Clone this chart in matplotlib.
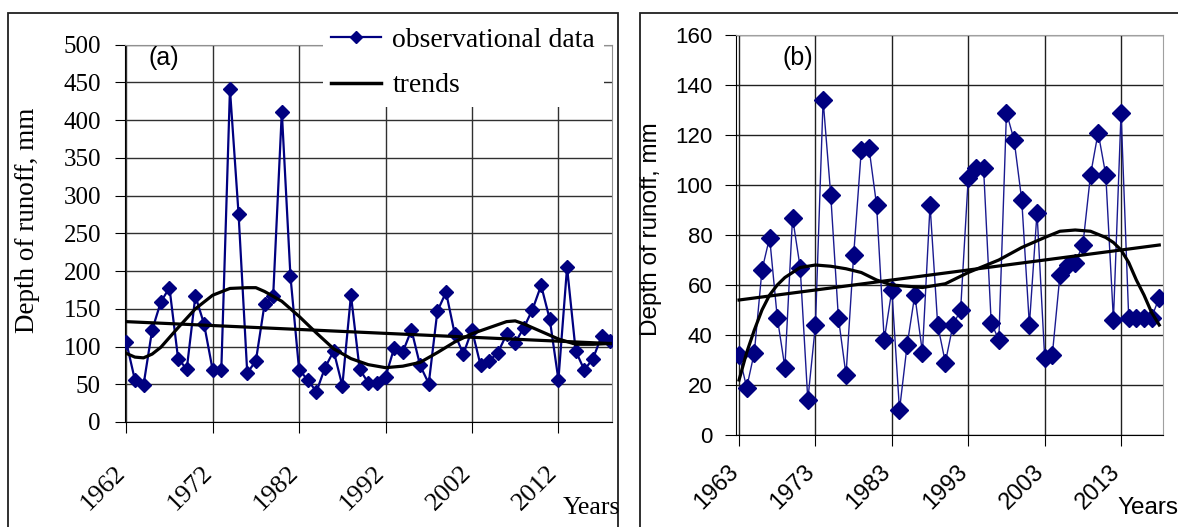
import matplotlib
matplotlib.use("Agg")
import matplotlib.pyplot as plt
from matplotlib.patches import Rectangle
from matplotlib.lines import Line2D

# (a) observations 1962-2018
years_a = list(range(1962, 2019))
runoff_a = [106, 56, 49, 122, 159, 178, 84, 70, 167, 130,
            69, 69, 441, 275, 65, 81, 156, 167, 411, 193,
            69, 56, 40, 72, 94, 48, 168, 70, 52, 52,
            60, 98, 93, 122, 75, 51, 147, 172, 117, 90,
            122, 75, 81, 92, 116, 105, 125, 149, 181, 136,
            56, 205, 94, 69, 84, 114, 108]
smooth_a_years = [1962, 1963, 1964, 1965, 1966, 1968, 1970, 1972, 1974, 1976, 1977, 1978,
                  1980, 1982, 1984, 1986, 1988, 1990, 1992, 1994, 1996, 1998, 2000, 2002,
                  2004, 2006, 2007, 2008, 2010, 2012, 2014, 2016, 2018]
smooth_a = [91, 86, 85, 90, 99, 125, 150, 168, 177, 178, 178, 173,
            160, 140, 118, 97, 84, 76, 72, 74, 79, 92, 106, 117,
            125, 133, 134, 130, 120, 110, 103, 103, 104]
linear_a_years = [1962, 2018]
linear_a = [133, 104]

# (b) observations 1963-2018
years_b = list(range(1963, 2019))
runoff_b = [32, 19, 33, 66, 79, 47, 27, 87, 67, 14,
            44, 134, 96, 47, 24, 72, 114, 115, 92, 38,
            58, 10, 36, 56, 33, 92, 44, 29, 44, 50,
            103, 107, 107, 45, 38, 129, 118, 94, 44, 89,
            31, 32, 64, 68, 69, 76, 104, 121, 104, 46,
            129, 47, 47, 47, 47, 55]
smooth_b_years = [1963, 1964, 1965, 1966, 1967, 1968, 1969, 1971, 1973, 1975, 1977, 1979,
                  1981, 1983, 1987, 1990, 1993, 1997, 2000, 2003, 2005, 2007, 2009,
                  2011, 2012, 2013, 2014, 2015, 2016, 2017, 2018]
smooth_b = [22, 33, 42, 50, 56, 60, 63, 67, 68, 67.5, 66.5, 65,
            62, 60, 59, 60.5, 65, 70, 75, 79, 81.5, 82, 81.5,
            79, 77, 74, 69, 62, 56, 49, 44]
linear_b_years = [1963, 2018]
linear_b = [54, 76]

W, H = 1178, 527
fig = plt.figure(figsize=(W / 100, H / 100), dpi=100)

def fx(px):
    return px / W

def fy(py):
    return 1 - py / H

navy = "#000080"
serif = "Liberation Serif"
sans = "Liberation Sans"

# ---- panel (a)
ax1 = fig.add_axes([fx(124.5), fy(422), fx(612 - 124.5), fy(44.7) - fy(422)])
ax1.plot(years_a, runoff_a, color=navy, lw=1.6, marker="D", ms=7,
         mfc=navy, mec=navy, zorder=3)
ax1.plot(smooth_a_years, smooth_a, color="black", lw=2.3, zorder=4)
ax1.plot(linear_a_years, linear_a, color="black", lw=2.3, zorder=4)
ax1.set_xlim(1961.8, 2018.2)
ax1.set_ylim(0, 500)
ax1.set_yticks(range(0, 501, 50))
ax1.set_xticks(range(1962, 2013, 10))
ax1.grid(True, color="#303030", lw=1)
ax1.set_axisbelow(True)
ax1.tick_params(axis="y", direction="out", length=7, pad=10, labelsize=18)
ax1.tick_params(axis="x", direction="out", length=8, pad=29, labelsize=19)
for lab in ax1.get_xticklabels():
    lab.set_rotation(45)
    lab.set_rotation_mode("anchor")
    lab.set_ha("right")
    lab.set_va("baseline")
    lab.set_fontfamily(serif)
for lab in ax1.get_yticklabels():
    lab.set_fontfamily(serif)
ax1.set_ylabel("Depth of runoff, mm", fontsize=19.5, fontfamily=serif)
ax1.yaxis.set_label_coords(fx(40 - 124.5) / fx(612 - 124.5), 0.535)
for s in ["top", "right"]:
    ax1.spines[s].set_color("#909090")
ax1.text(fx(148), fy(58), "(a)", transform=fig.transFigure, fontsize=18,
         fontfamily=sans, va="center", ha="left")
fig.text(fx(563), fy(508), "Years", fontsize=18.5, fontfamily=serif, va="center")

handles = [Line2D([], [], color=navy, lw=1.6, marker="D", ms=6),
           Line2D([], [], color="black", lw=2.5)]
leg = ax1.legend(handles, ["observational data", "trends"], loc="upper left",
                 bbox_to_anchor=(fx(323), fy(19)), bbox_transform=fig.transFigure,
                 borderaxespad=0, borderpad=0.3, prop={"family": serif, "size": 20},
                 handlelength=1.8, handletextpad=0.4, labelspacing=0.72,
                 frameon=True, fancybox=False, framealpha=1)
leg.get_frame().set_edgecolor("none")
leg.set_zorder(10)

# ---- panel (b)
ax2 = fig.add_axes([fx(736), fy(435), fx(1162.7 - 736), fy(35) - fy(435)])
ax2.plot(years_b, runoff_b, color="#1a1a90", lw=1.0, marker="D", ms=9,
         mfc=navy, mec=navy, zorder=3)
ax2.plot(smooth_b_years, smooth_b, color="black", lw=2.3, zorder=4)
ax2.plot(linear_b_years, linear_b, color="black", lw=2.3, zorder=4)
ax2.set_xlim(1962.6, 2018.45)
ax2.set_ylim(0, 160)
ax2.set_yticks(range(0, 161, 20))
ax2.set_xticks(range(1963, 2014, 10))
ax2.grid(True, color="#202020", lw=1)
ax2.set_axisbelow(True)
ax2.tick_params(axis="y", direction="out", length=8, pad=9, labelsize=16)
ax2.tick_params(axis="x", direction="out", length=8, pad=19, labelsize=17)
for lab in ax2.get_xticklabels():
    lab.set_rotation(45)
    lab.set_rotation_mode("anchor")
    lab.set_ha("right")
    lab.set_va("baseline")
    lab.set_fontfamily(sans)
for lab in ax2.get_yticklabels():
    lab.set_fontfamily(sans)
ax2.set_ylabel("Depth of runoff, mm", fontsize=17.5, fontfamily=sans)
ax2.yaxis.set_label_coords(fx(662 - 736) / fx(1162.7 - 736), 0.515)
for s in ["top", "right"]:
    ax2.spines[s].set_color("#a0a0a0")
ax2.text(fx(783), fy(58), "(b)", transform=fig.transFigure, fontsize=18,
         fontfamily=sans, va="center", ha="left")
fig.text(fx(1117), fy(508), "Years", fontsize=17.5, fontfamily=sans, va="center")

# panel frames
fig.add_artist(Rectangle((fx(8), fy(560)), fx(618 - 8), fy(13) - fy(560),
                         transform=fig.transFigure, fill=False, ec="#202020", lw=1.3))
fig.add_artist(Rectangle((fx(640), fy(560)), fx(1200 - 640), fy(13) - fy(560),
                         transform=fig.transFigure, fill=False, ec="#202020", lw=1.3))

fig.savefig("out.png", dpi=100)
